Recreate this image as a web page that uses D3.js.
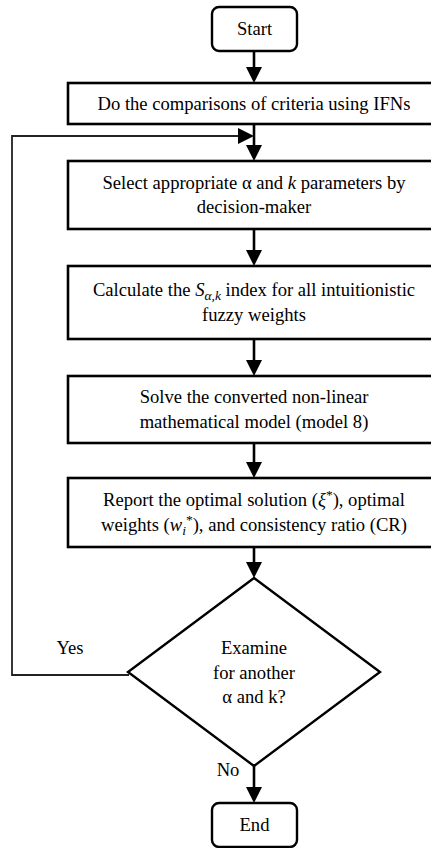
<!DOCTYPE html>
<html>
<head>
<meta charset="utf-8">
<script src="https://cdn.jsdelivr.net/npm/d3@7"></script>
<style>
html,body{margin:0;padding:0;background:#fff;}
svg{display:block;}
</style>
</head>
<body>
<div id="chart"></div>
<script>
// ---- data ----
const terminals = ["Start", "End"];
const processSteps = [
  [[{t:"Do the comparisons of criteria using IFNs"}]],
  [[{t:"Select appropriate α and "},{t:"k",i:1},{t:" parameters by"}],[{t:"decision-maker"}]],
  [[{t:"Calculate the "},{t:"S",i:1},{t:"α,k",i:1,sub:1},{t:" index for all intuitionistic"}],[{t:"fuzzy weights"}]],
  [[{t:"Solve the converted non-linear"}],[{t:"mathematical model (model 8)"}]],
  [[{t:"Report the optimal solution ("},{t:"ξ",i:1},{t:"*",sup:1},{t:"), optimal"}],
   [{t:"weights ("},{t:"w",i:1},{t:"i",i:1,sub:1},{t:"*",sup:1},{t:"), and consistency ratio (CR)"}]]
];
const decisionLines = ["Examine","for another","α and k?"];
const branchLabels = ["Yes","No"];

// ---- layout ----
const W = 431, H = 848, cx = 254;
const FONT = "Liberation Serif, Times New Roman, Times, serif";
const FS = 18.6;
const svg = d3.select("#chart").append("svg").attr("width", W).attr("height", H)
  .style("font-family", FONT).style("font-size", FS + "px");

const boxL = 68, boxR = 440;
const boxTops = [83, 161, 266, 376, 478];
const boxBots = [124, 229, 339, 443, 547];
const start = {x0:212, x1:297, y0:7, y1:51};
const end = {x0:212, x1:297, y0:803, y1:847};
const dia = {cy:672, hw:126, hh:94};
const loopX = 12, loopY = 136, loopYb = 675;

const ink = "#000";

function txt(x, y) {
  return svg.append("text").attr("x", x).attr("y", y).attr("text-anchor", "middle")
    .attr("font-family", FONT).attr("font-size", FS).attr("fill", ink);
}

function arrowHead(g, x, y, dir) {
  const w = 8, h = 16;
  let pts;
  if (dir === "down") pts = [[x - w, y - h], [x + w, y - h], [x, y]];
  else pts = [[x - h, y - w], [x - h, y + w], [x, y]];
  g.append("path").attr("d", d3.line()(pts) + "Z").attr("fill", ink);
}

function vArrow(y0, y1) {
  svg.append("line").attr("x1", cx).attr("x2", cx).attr("y1", y0).attr("y2", y1 - 12)
    .attr("stroke", ink).attr("stroke-width", 2.6);
  arrowHead(svg, cx, y1, "down");
}

// terminals
[start, end].forEach((b, i) => {
  svg.append("rect").attr("x", b.x0).attr("y", b.y0).attr("width", b.x1 - b.x0).attr("height", b.y1 - b.y0)
    .attr("rx", 7).attr("ry", 7).attr("fill", "#fff").attr("stroke", ink).attr("stroke-width", 2.4);
  txt((b.x0 + b.x1) / 2, (b.y0 + b.y1) / 2 + 6).text(terminals[i]);
});

// process boxes
processSteps.forEach((lines, i) => {
  const y0 = boxTops[i], y1 = boxBots[i];
  svg.append("rect").attr("x", boxL).attr("y", y0).attr("width", boxR - boxL).attr("height", y1 - y0)
    .attr("fill", "#fff").attr("stroke", ink).attr("stroke-width", 2.6);
  const mid = (y0 + y1) / 2;
  const lh = 24.5;
  const first = mid - (lines.length - 1) * lh / 2 + 6;
  lines.forEach((segs, j) => {
    const t = txt(cx, first + j * lh);
    segs.forEach(s => {
      const sp = t.append("tspan").text(s.t);
      if (s.i) sp.attr("font-style", "italic");
      if (s.sub) sp.attr("font-size", 13.5).attr("baseline-shift", "-4");
      if (s.sup) sp.attr("font-size", 13.5).attr("baseline-shift", "7");
    });
  });
});

// arrows between
vArrow(start.y1, boxTops[0]);
for (let i = 0; i < boxTops.length - 1; i++) vArrow(boxBots[i], boxTops[i + 1]);
vArrow(boxBots[4], dia.cy - dia.hh);
vArrow(dia.cy + dia.hh, end.y0);

// diamond
svg.append("path")
  .attr("d", d3.line()([[cx, dia.cy - dia.hh], [cx + dia.hw, dia.cy], [cx, dia.cy + dia.hh], [cx - dia.hw, dia.cy]]) + "Z")
  .attr("fill", "#fff").attr("stroke", ink).attr("stroke-width", 2.4);
decisionLines.forEach((l, j) => {
  txt(cx, dia.cy - 24 + j * 24.5 + 6).text(l);
});

// loop back
svg.append("path")
  .attr("d", d3.line()([[cx - dia.hw + 1, loopYb], [loopX, loopYb], [loopX, loopY], [cx - 14, loopY]]))
  .attr("fill", "none").attr("stroke", "#222").attr("stroke-width", 1.8);
arrowHead(svg, cx, loopY, "right");

// labels
txt(70, 654).text(branchLabels[0]);
txt(228, 776).text(branchLabels[1]);
</script>
</body>
</html>
